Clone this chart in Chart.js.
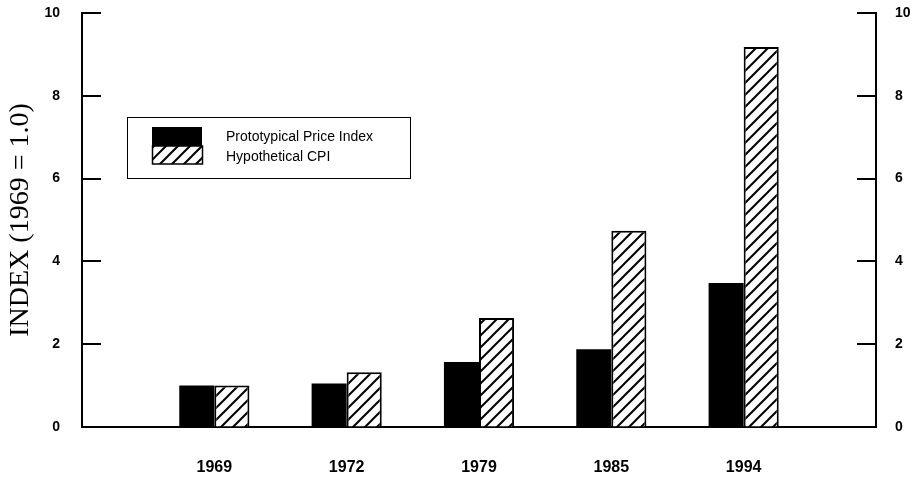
<!DOCTYPE html>
<html>
<head>
<meta charset="utf-8">
<script src="https://cdn.jsdelivr.net/npm/chart.js@4/dist/chart.umd.min.js"></script>
<style>
  html, body { margin: 0; padding: 0; background: #fff; }
  #wrap { width: 921px; height: 478px; }
</style>
</head>
<body>
<div id="wrap"><canvas id="miGrafico" width="921" height="478"></canvas></div>
<script>
const categories = ['1969', '1972', '1979', '1985', '1994'];
const priceIndex = [1.0, 1.05, 1.57, 1.88, 3.48];
const hypotheticalCpi = [1.0, 1.32, 2.63, 4.74, 9.18];
const seriesNames = ['Prototypical Price Index', 'Hypothetical CPI'];

// diagonal hatching like the printed figure
function makeHatch() {
    const c = document.createElement('canvas');
    c.width = 12; c.height = 12;
    const g = c.getContext('2d');
    g.fillStyle = '#fff';
    g.fillRect(0, 0, 12, 12);
    g.strokeStyle = '#000';
    g.lineWidth = 2;
    g.beginPath();
    g.moveTo(0, 12); g.lineTo(12, 0);
    g.moveTo(-3, 3); g.lineTo(3, -3);
    g.moveTo(9, 15); g.lineTo(15, 9);
    g.stroke();
    return g.createPattern(c, 'repeat');
}
const hatch = makeHatch();

// empty slots at both ends so the groups sit away from the side axes
const labels = [''].concat(categories, ['']);
const pad = arr => [null].concat(arr, [null]);

// inward tick marks on both value axes
const inwardTicks = {
    id: 'inwardTicks',
    afterDraw(chart) {
        const ctx = chart.ctx;
        const area = chart.chartArea;
        ctx.save();
        ctx.strokeStyle = '#000';
        ctx.lineWidth = 2;
        for (const id of ['y', 'y2']) {
            const s = chart.scales[id];
            for (const t of s.ticks) {
                const py = Math.round(s.getPixelForValue(t.value));
                ctx.beginPath();
                if (id === 'y') {
                    ctx.moveTo(area.left, py); ctx.lineTo(area.left + 19, py);
                } else {
                    ctx.moveTo(area.right, py); ctx.lineTo(area.right - 19, py);
                }
                ctx.stroke();
            }
        }
        ctx.restore();
    }
};

// boxed legend inside the plot, as in the original
const boxLegend = {
    id: 'boxLegend',
    afterDraw(chart) {
        const ctx = chart.ctx;
        ctx.save();
        ctx.fillStyle = '#fff';
        ctx.fillRect(127, 117, 283, 61);
        ctx.strokeStyle = '#000';
        ctx.lineWidth = 1;
        ctx.strokeRect(127.5, 117.5, 283, 61);
        const ds = chart.data.datasets;
        ctx.fillStyle = ds[0].backgroundColor;
        ctx.fillRect(152, 127, 50, 19);
        ctx.fillStyle = ds[1].backgroundColor;
        ctx.fillRect(152, 146, 50, 18);
        ctx.lineWidth = 1.5;
        ctx.strokeRect(152.5, 146, 50, 18);
        ctx.fillStyle = '#000';
        ctx.font = '14px "Liberation Sans", Arial, sans-serif';
        ctx.textBaseline = 'middle';
        ctx.fillText(ds[0].label, 226, 137);
        ctx.fillText(ds[1].label, 226, 157);
        ctx.restore();
    }
};

const tickFont = { family: '"Liberation Sans", Arial, sans-serif', size: 14, weight: 'bold' };

const grafico = new Chart(document.getElementById('miGrafico'), {
    type: 'bar',
    data: {
        labels: labels,
        datasets: [
            {
                label: seriesNames[0],
                data: pad(priceIndex),
                backgroundColor: '#000',
                borderWidth: 0
            },
            {
                label: seriesNames[1],
                data: pad(hypotheticalCpi),
                backgroundColor: hatch,
                borderColor: '#000',
                borderWidth: 2
            }
        ]
    },
    options: {
        responsive: false,
        animation: false,
        layout: { padding: { top: 13, left: 0, right: 0, bottom: 0 } },
        datasets: { bar: { barPercentage: 1.0, categoryPercentage: 0.53 } },
        plugins: {
            legend: { display: false },
            tooltip: { enabled: false }
        },
        scales: {
            x: {
                offset: false,
                grid: { display: false, drawTicks: false },
                border: { display: true, color: '#000', width: 2 },
                ticks: {
                    autoSkip: false,
                    maxRotation: 0,
                    padding: 31,
                    color: '#000',
                    font: { family: '"Liberation Sans", Arial, sans-serif', size: 16, weight: 'bold' }
                },
                afterFit: s => { s.height = 51; s.paddingLeft = 0; s.paddingRight = 0; }
            },
            y: {
                position: 'left',
                min: 0, max: 10,
                grid: { drawOnChartArea: false, drawTicks: false },
                border: { display: true, color: '#000', width: 2 },
                ticks: { stepSize: 2, padding: 22, color: '#000', font: tickFont },
                title: {
                    display: true,
                    text: 'INDEX (1969 = 1.0)',
                    color: '#000',
                    padding: 4,
                    font: { family: '"Liberation Serif", "Times New Roman", serif', size: 28 }
                },
                afterFit: s => { s.width = 82; s.paddingTop = 0; s.paddingBottom = 0; }
            },
            y2: {
                position: 'right',
                min: 0, max: 10,
                grid: { drawOnChartArea: false, drawTicks: false },
                border: { display: true, color: '#000', width: 2 },
                ticks: { stepSize: 2, padding: 19, color: '#000', font: tickFont },
                afterFit: s => { s.width = 45; s.paddingTop = 0; s.paddingBottom = 0; }
            }
        }
    },
    plugins: [inwardTicks, boxLegend]
});
</script>
</body>
</html>
